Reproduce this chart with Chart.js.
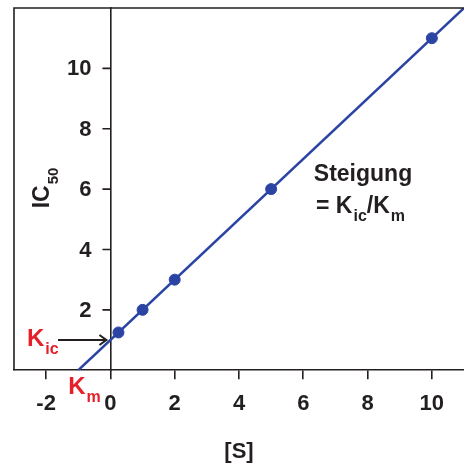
<!DOCTYPE html>
<html>
<head>
<meta charset="utf-8">
<script src="https://cdn.jsdelivr.net/npm/chart.js@4"></script>
<style>
  html, body { margin: 0; padding: 0; background: #fff; overflow: hidden; }
  #wrap { width: 464px; height: 471px; }
  canvas { display: block; }
</style>
</head>
<body>
<div id="wrap"><canvas id="myChart" width="464" height="471"></canvas></div>
<script>
// Datos
const sValues = [0.25, 1, 2, 5, 10];
const ic50Values = [1.25, 2, 3, 6, 11];
const fitS = [-1, 11];
const fitIC50 = [0, 12];
const xTicks = [-2, 0, 2, 4, 6, 8, 10];
const yTicks = [2, 4, 6, 8, 10];
const kicValue = 1;   // Schnittpunkt mit der y-Achse
const kmValue = -1;   // Schnittpunkt mit der x-Achse

const FONT = "'Liberation Sans', Arial, sans-serif";
const INK = '#231f20';
const BLUE = '#2b44a4';
const RED = '#e5202b';

// Texto con subíndice
function drawSub(ctx, main, sub, x, y, size, subSize, color, drop) {
    ctx.fillStyle = color;
    ctx.textAlign = 'left';
    ctx.textBaseline = 'alphabetic';
    ctx.font = 'bold ' + size + 'px ' + FONT;
    ctx.fillText(main, x, y);
    const w = ctx.measureText(main).width;
    ctx.font = 'bold ' + subSize + 'px ' + FONT;
    ctx.fillText(sub, x + w + 1, y + (drop !== undefined ? drop : subSize * 0.5));
    return x + w + 1 + ctx.measureText(sub).width;
}

const extras = {
    id: 'extras',
    afterDraw(chart) {
        const ctx = chart.ctx;
        const a = chart.chartArea;
        const xs = chart.scales.x, ys = chart.scales.y;
        const x0 = xs.getPixelForValue(0);
        ctx.save();

        // marco izquierdo y superior
        ctx.strokeStyle = INK;
        ctx.lineWidth = 1.6;
        ctx.beginPath();
        ctx.moveTo(a.left, a.bottom);
        ctx.lineTo(a.left, a.top);
        ctx.lineTo(a.right, a.top);
        ctx.stroke();

        // marcas y etiquetas del eje y (en x = 0)
        ctx.beginPath();
        ys.ticks.forEach(t => {
            const py = ys.getPixelForValue(t.value);
            ctx.moveTo(x0 - 8, py);
            ctx.lineTo(x0, py);
        });
        ctx.stroke();
        ctx.fillStyle = INK;
        ctx.font = 'bold 22px ' + FONT;
        ctx.textAlign = 'right';
        ctx.textBaseline = 'middle';
        ys.ticks.forEach(t => {
            ctx.fillText(String(t.value), x0 - 19, ys.getPixelForValue(t.value) + 1);
        });

        // título eje y: IC50 (girado)
        ctx.save();
        ctx.translate(49, 188);
        ctx.rotate(-Math.PI / 2);
        ctx.font = 'bold 23px ' + FONT;
        const icW = ctx.measureText('IC').width;
        ctx.font = 'bold 15px ' + FONT;
        const subW = ctx.measureText('50').width;
        drawSub(ctx, 'IC', '50', -(icW + subW + 1) / 2, 0, 23, 15, INK, 9);
        ctx.restore();

        // K_ic y flecha
        const yK = ys.getPixelForValue(kicValue);
        drawSub(ctx, 'K', 'ic', 27, yK + 6, 24, 16, RED, 8);
        ctx.strokeStyle = INK;
        ctx.lineWidth = 2;
        ctx.beginPath();
        ctx.moveTo(58, yK);
        ctx.lineTo(x0 - 4, yK);
        ctx.moveTo(x0 - 11, yK - 5);
        ctx.lineTo(x0 - 4, yK);
        ctx.lineTo(x0 - 11, yK + 5);
        ctx.stroke();

        // K_m
        const xKm = xs.getPixelForValue(kmValue);
        drawSub(ctx, 'K', 'm', xKm - 10, a.bottom + 24, 24, 16, RED, 8);

        // Steigung = Kic/Km
        ctx.fillStyle = INK;
        ctx.font = 'bold 23px ' + FONT;
        ctx.textAlign = 'center';
        ctx.textBaseline = 'alphabetic';
        ctx.fillText('Steigung', 363, 181);
        let x = drawSub(ctx, '= K', 'ic', 316, 213, 23, 16, INK, 8);
        ctx.font = 'bold 23px ' + FONT;
        ctx.textAlign = 'left';
        ctx.fillText('/', x, 213);
        x = x + ctx.measureText('/').width;
        drawSub(ctx, 'K', 'm', x, 213, 23, 16, INK, 8);

        ctx.restore();
    }
};

const ctx = document.getElementById('myChart').getContext('2d');
new Chart(ctx, {
    type: 'scatter',
    data: {
        datasets: [{
            type: 'line',
            data: fitS.map((s, i) => ({ x: s, y: fitIC50[i] })),
            borderColor: BLUE,
            borderWidth: 2.5,
            pointRadius: 0,
            fill: false
        }, {
            data: sValues.map((s, i) => ({ x: s, y: ic50Values[i] })),
            backgroundColor: BLUE,
            borderColor: BLUE,
            pointRadius: 5.5,
            pointHoverRadius: 5.5
        }]
    },
    options: {
        responsive: false,
        animation: false,
        events: [],
        layout: { autoPadding: false, padding: { left: 14, top: 8, right: 0, bottom: 0 } },
        plugins: { legend: { display: false }, tooltip: { enabled: false } },
        scales: {
            x: {
                type: 'linear',
                min: -3,
                max: 11,
                afterBuildTicks: s => { s.ticks = xTicks.map(v => ({ value: v })); },
                afterFit: s => { s.paddingLeft = 0; s.paddingRight = 0; },
                grid: { drawOnChartArea: false, drawTicks: true, tickLength: 9, color: INK, lineWidth: 1.6 },
                border: { display: true, color: INK, width: 1.6 },
                ticks: { color: INK, padding: 12, maxRotation: 0, font: { family: FONT, size: 22, weight: 'bold' } },
                title: { display: true, text: '[S]', color: INK, padding: { top: 9, bottom: 6 }, font: { family: FONT, size: 22, weight: 'bold' } }
            },
            y: {
                type: 'linear',
                position: { x: 0 },
                min: 0,
                max: 12,
                afterBuildTicks: s => { s.ticks = yTicks.map(v => ({ value: v })); },
                afterFit: s => { s.paddingTop = 0; s.paddingBottom = 0; s.paddingLeft = 0; s.paddingRight = 0; },
                grid: { drawOnChartArea: false, drawTicks: false },
                border: { display: true, color: INK, width: 1.6 },
                ticks: { display: false }
            }
        }
    },
    plugins: [extras]
});
</script>
</body>
</html>
